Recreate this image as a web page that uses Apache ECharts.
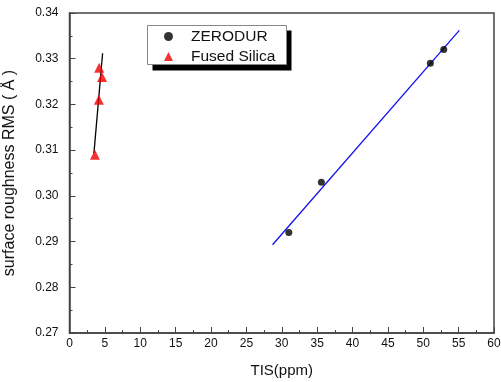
<!DOCTYPE html>
<html>
<head>
<meta charset="utf-8">
<script src="https://cdn.jsdelivr.net/npm/echarts@6/dist/echarts.min.js"></script>
<style>
  html, body { margin: 0; padding: 0; background: #fff; }
  #chart { width: 501px; height: 382px; }
</style>
</head>
<body>
<div id="chart"></div>
<script>
// points: [TIS (ppm), RMS (Å)]
const zerodur = [[31.0, 0.292], [35.6, 0.303], [51.0, 0.329], [52.9, 0.332]];
const fusedSilica = [[3.6, 0.309], [4.15, 0.321], [4.2, 0.328], [4.6, 0.326]];
// fitted lines, end points as drawn
const zerodurFit = [[28.7, 0.2893], [55.1, 0.3362]];
const silicaFit = [[3.45, 0.3093], [4.68, 0.3312]];

const font = '"Liberation Sans", Arial, sans-serif';
const axisColor = '#444';

const chart = echarts.init(document.getElementById('chart'));
chart.setOption({
  animation: false,
  textStyle: { fontFamily: font },
  grid: {
    left: 69.5, right: 7, top: 13, bottom: 49,
    outerBoundsMode: 'none',
    show: true, borderColor: axisColor, borderWidth: 1.5,
    backgroundColor: 'transparent'
  },
  // legend frame with the hard drop shadow
  graphic: [
    { type: 'rect', shape: { x: 152.5, y: 30.5, width: 139, height: 40 }, style: { fill: '#000' }, z: 4 },
    { type: 'rect', shape: { x: 147.5, y: 25.5, width: 139, height: 39 },
      style: { fill: '#fff', stroke: '#888', lineWidth: 1 }, z: 5 }
  ],
  legend: {
    data: ['ZERODUR', 'Fused Silica'],
    orient: 'vertical',
    left: 164, top: 28.5,
    padding: 0,
    itemGap: 4,
    itemWidth: 9, itemHeight: 9,
    z: 10,
    textStyle: { fontFamily: font, fontSize: 15.5, lineHeight: 15, color: '#111', padding: [0, 0, 0, 13] }
  },
  xAxis: {
    type: 'value', min: 0, max: 60, interval: 5,
    name: 'TIS(ppm)', nameLocation: 'middle', nameGap: 30,
    nameTextStyle: { fontFamily: font, fontSize: 15, color: '#111' },
    axisLine: { lineStyle: { color: axisColor, width: 1.5 } },
    axisTick: { inside: true, length: 6, lineStyle: { color: axisColor } },
    minorTick: { show: true, splitNumber: 2, length: 3, lineStyle: { color: axisColor } },
    splitLine: { show: false },
    axisLabel: { fontFamily: font, fontSize: 12, color: '#111', margin: 5 }
  },
  yAxis: {
    type: 'value', min: 0.27, max: 0.34, interval: 0.01,
    name: 'surface roughness RMS ( Å )', nameLocation: 'middle', nameGap: 52,
    nameTextStyle: { fontFamily: font, fontSize: 16, color: '#111' },
    axisLine: { lineStyle: { color: axisColor, width: 1.5 } },
    axisTick: { inside: true, length: 6, lineStyle: { color: axisColor } },
    minorTick: { show: true, splitNumber: 2, length: 3, lineStyle: { color: axisColor } },
    splitLine: { show: false },
    axisLabel: {
      fontFamily: font, fontSize: 12, color: '#111', margin: 11,
      formatter: v => v.toFixed(2)
    }
  },
  series: [
    {
      name: 'zerodur fit', type: 'line', data: zerodurFit,
      symbol: 'none', lineStyle: { color: '#1010ee', width: 1.3 }, z: 1
    },
    {
      name: 'silica fit', type: 'line', data: silicaFit,
      symbol: 'none', lineStyle: { color: '#000', width: 1.3 }, z: 1
    },
    {
      name: 'ZERODUR', type: 'scatter', data: zerodur,
      symbol: 'circle', symbolSize: 7, itemStyle: { color: '#000' }, z: 3
    },
    {
      name: 'Fused Silica', type: 'scatter', data: fusedSilica,
      symbol: 'triangle', symbolSize: 10, itemStyle: { color: '#ee0000' }, z: 3
    }
  ]
});
</script>
</body>
</html>
